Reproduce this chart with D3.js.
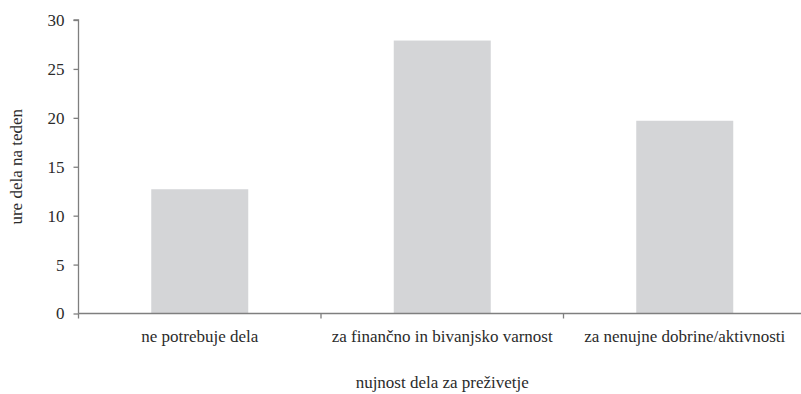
<!DOCTYPE html>
<html>
<head>
<meta charset="utf-8">
<script src="https://cdn.jsdelivr.net/npm/d3@7/dist/d3.min.js"></script>
<style>
  html, body { margin: 0; padding: 0; background: #fff; }
  svg { display: block; }
</style>
</head>
<body>
<svg id="chart" width="801" height="394"></svg>
<script>
// Hours of work per week by how necessary the work is for survival
const categories = ["ne potrebuje dela", "za finančno in bivanjsko varnost", "za nenujne dobrine/aktivnosti"];
const hours = [12.7, 27.9, 19.7];
const yTicks = [0, 5, 10, 15, 20, 25, 30];
const xTitle = "nujnost dela za preživetje";
const yTitle = "ure dela na teden";

const svg = d3.select("#chart");
const plotLeft = 78.5, plotRight = 806, plotTop = 20, plotBottom = 313.5;
const textColor = "#2b2b2b";
const serifStack = "Times New Roman, Tinos, serif";

const x = d3.scaleBand().domain(categories).range([plotLeft, plotRight]).padding(0);
const y = d3.scaleLinear().domain([0, 30]).range([plotBottom, plotTop]);

const axisColor = "#7f7f7f";
const barFrac = 0.4;

function styleText(sel) {
  return sel
    .style("font-family", serifStack)
    .style("font-size", "17px")
    .attr("fill", textColor);
}

// bars
svg.append("g").selectAll("rect")
  .data(categories.map((c, i) => ({ c, v: hours[i] })))
  .join("rect")
  .attr("x", d => x(d.c) + x.bandwidth() * (1 - barFrac) / 2)
  .attr("width", x.bandwidth() * barFrac)
  .attr("y", d => y(d.v))
  .attr("height", d => y(0) - y(d.v))
  .attr("fill", "#d4d5d7");

// y axis
const yAxis = svg.append("g")
  .attr("transform", `translate(${plotLeft},0)`)
  .call(d3.axisLeft(y).tickValues(yTicks).tickSize(5).tickPadding(9).tickFormat(d3.format("d")))
  .attr("font-family", null).attr("font-size", null);
yAxis.select(".domain").attr("stroke", axisColor).attr("stroke-width", 1.3).attr("d", `M-5,${plotTop}H0V${plotBottom}`);
yAxis.selectAll(".tick line").attr("stroke", axisColor).attr("stroke-width", 1.3);
styleText(yAxis.selectAll(".tick text"));

// x axis with ticks at category boundaries
const xAxis = svg.append("g").attr("transform", `translate(0,${plotBottom})`);
xAxis.append("line")
  .attr("x1", plotLeft).attr("x2", plotRight)
  .attr("stroke", axisColor).attr("stroke-width", 1.3);
xAxis.selectAll("line.b")
  .data(categories.map(c => x(c)).concat([x.range()[1]]))
  .join("line").attr("class", "b")
  .attr("x1", d => d).attr("x2", d => d)
  .attr("y1", 0).attr("y2", 5)
  .attr("stroke", axisColor).attr("stroke-width", 1.3);
styleText(xAxis.selectAll("text")
  .data(categories)
  .join("text")
  .attr("x", d => x(d) + x.bandwidth() / 2)
  .attr("y", 28)
  .attr("text-anchor", "middle")
  .text(d => d));

// axis titles
styleText(svg.append("text")
  .attr("x", x(categories[1]) + x.bandwidth() / 2)
  .attr("y", 388)
  .attr("text-anchor", "middle")
  .text(xTitle));

styleText(svg.append("text")
  .attr("transform", `translate(22,${(plotTop + plotBottom) / 2}) rotate(-90)`)
  .attr("text-anchor", "middle")
  .text(yTitle));
</script>
</body>
</html>
